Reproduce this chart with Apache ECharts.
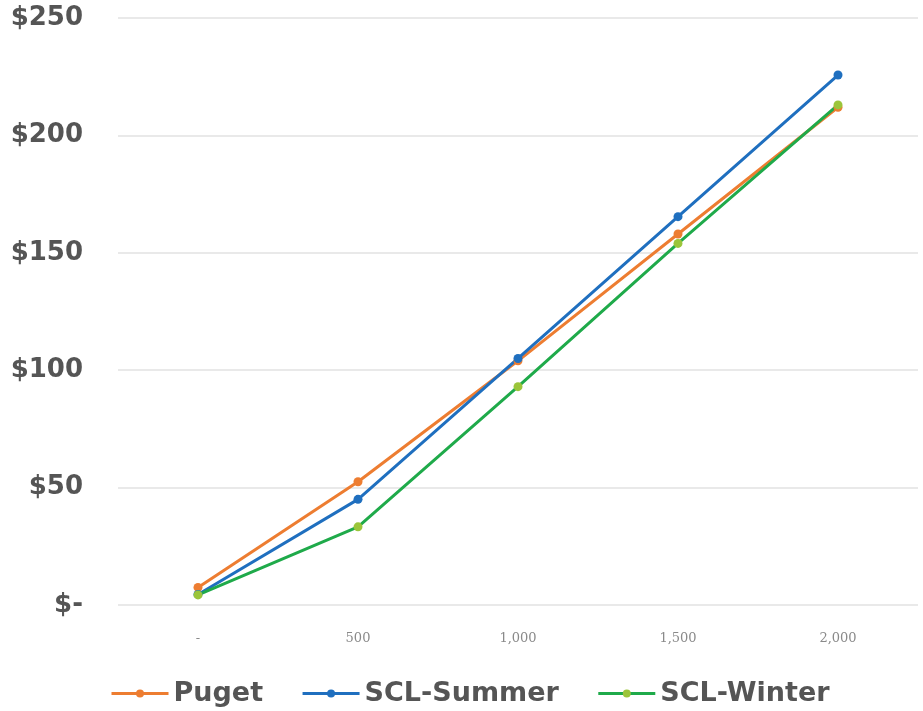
<!DOCTYPE html>
<html lang="en">
<head>
    <meta charset="utf-8"/>
    <title>Cost chart</title>
    <script src="https://cdn.jsdelivr.net/npm/echarts@6/dist/echarts.min.js"></script>
    <style>
        html, body { margin: 0; height: 100%; background: #FFFFFF; }
        #chart { width: 923px; height: 711px; }
    </style>
</head>
<body>
<div id="chart"></div>
<script>
    var categories = ['-', '500', '1,000', '1,500', '2,000'];
    var puget = [7.5, 52.5, 104, 158, 212];
    var sclSummer = [4.5, 45, 105, 165.4, 225.7];
    var sclWinter = [4.3, 33.3, 93, 154, 213];

    var chart = echarts.init(document.getElementById('chart'));

    function lineSeries(name, data, lineColor, dotColor) {
        return {
            name: name,
            type: 'line',
            data: data,
            symbol: 'circle',
            symbolSize: 9,
            lineStyle: { color: lineColor, width: 3 },
            itemStyle: { color: dotColor },
            emphasis: { disabled: true }
        }
    }

    chart.setOption({
        animation: false,
        grid: { left: 118, right: 5, top: 18, bottom: 106 },
        legend: {
            top: 675,
            left: 105,
            itemGap: 38,
            itemWidth: 57,
            itemHeight: 10,
            lineStyle: { width: 3 },
            textStyle: {
                fontFamily: 'DejaVu Sans',
                fontWeight: 'bold',
                fontSize: 27,
                color: '#555555'
            },
            data: ['Puget', 'SCL-Summer', 'SCL-Winter']
        },
        xAxis: {
            type: 'category',
            data: categories,
            boundaryGap: true,
            axisLine: { show: false },
            axisTick: { show: false },
            axisLabel: {
                margin: 27,
                fontFamily: 'DejaVu Serif',
                fontSize: 13,
                color: '#8a8a8a'
            }
        },
        yAxis: {
            type: 'value',
            min: 0,
            max: 250,
            interval: 50,
            axisLine: { show: false },
            axisTick: { show: false },
            splitLine: { lineStyle: { color: '#e2e2e2', width: 1.5 } },
            axisLabel: {
                margin: 35,
                fontFamily: 'DejaVu Sans',
                fontWeight: 'bold',
                fontSize: 26,
                color: '#555555',
                formatter: function (v) { return v === 0 ? '$-' : '$' + v; }
            }
        },
        series: [
            lineSeries('Puget', puget, '#ED7D31', '#ED7D31'),
            lineSeries('SCL-Summer', sclSummer, '#1F6FBF', '#1F6FBF'),
            lineSeries('SCL-Winter', sclWinter, '#1FAA4A', '#9BC53A')
        ]
    });
</script>
</body>
</html>
